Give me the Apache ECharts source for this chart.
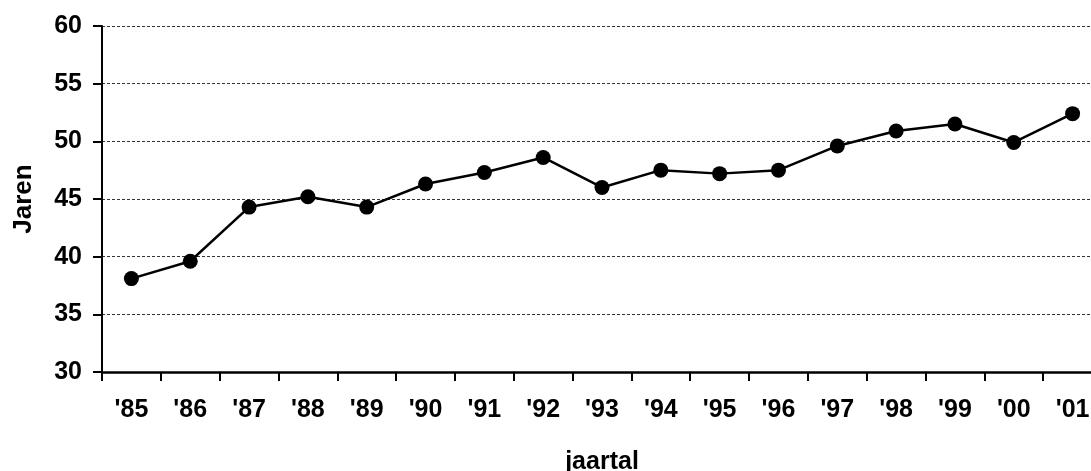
<!DOCTYPE html>
<html>
<head>
<meta charset="utf-8">
<script src="https://cdn.jsdelivr.net/npm/echarts@6/dist/echarts.min.js"></script>
<style>html,body{margin:0;padding:0;background:#fff}#c{width:1091px;height:471px}</style>
</head>
<body>
<div id="c"></div>
<script>
const categories = ["'85","'86","'87","'88","'89","'90","'91","'92","'93","'94","'95","'96","'97","'98","'99","'00","'01"];
const values = [38.1, 39.6, 44.3, 45.2, 44.3, 46.3, 47.3, 48.6, 46.0, 47.5, 47.2, 47.5, 49.6, 50.9, 51.5, 49.9, 52.4];
const yTicks = { min: 30, max: 60, interval: 5 };
const xTitle = 'jaartal';
const yTitle = 'Jaren';

const chart = echarts.init(document.getElementById('c'), null, { renderer: 'canvas' });
const font = 'Liberation Sans, Arial, sans-serif';
chart.setOption({
  animation: false,
  backgroundColor: '#fff',
  grid: { left: 102, top: 26, right: -11, bottom: 99, containLabel: false, outerBoundsMode: 'none' },
  xAxis: {
    type: 'category',
    data: categories,
    boundaryGap: true,
    name: xTitle,
    nameLocation: 'middle',
    nameGap: 78,
    nameTextStyle: { fontFamily: font, fontWeight: 'bold', fontSize: 25, color: '#000' },
    axisLine: { lineStyle: { color: '#000', width: 2.5 } },
    axisTick: { show: true, length: 9, lineStyle: { color: '#000', width: 2 }, alignWithLabel: false },
    axisLabel: { fontFamily: font, fontWeight: 'bold', fontSize: 25, color: '#000', margin: 26 },
    splitLine: { show: false }
  },
  yAxis: {
    type: 'value',
    min: yTicks.min, max: yTicks.max, interval: yTicks.interval,
    name: yTitle,
    nameLocation: 'middle',
    nameGap: 65,
    nameRotate: 90,
    nameTextStyle: { fontFamily: font, fontWeight: 'bold', fontSize: 26, color: '#000' },
    axisLine: { show: true, lineStyle: { color: '#000', width: 2 } },
    axisTick: { show: true, length: 9, lineStyle: { color: '#000', width: 2 } },
    axisLabel: { fontFamily: font, fontWeight: 'bold', fontSize: 25, color: '#000', margin: 20 },
    splitLine: { show: true, lineStyle: { color: '#333', width: 1, type: [3, 2] } }
  },
  series: [{
    type: 'line',
    data: values,
    symbol: 'circle',
    symbolSize: 15,
    itemStyle: { color: '#000' },
    lineStyle: { color: '#000', width: 2.5 },
    clip: false
  }]
});
</script>
</body>
</html>
